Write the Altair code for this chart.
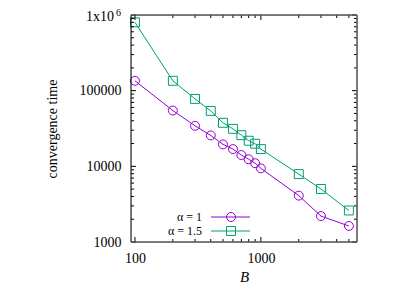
import altair as alt
import pandas as pd

# ---- data ----
B = [100, 200, 300, 400, 500, 600, 700, 800, 900, 1000, 2000, 3000, 5000]
t_alpha1 = [135000, 54600, 34300, 25600, 19500, 16900, 14100, 12400, 11000, 9400, 4100, 2200, 1630]
t_alpha15 = [800000, 135000, 77800, 54000, 37600, 31300, 25800, 21800, 19900, 16900, 7900, 5020, 2610]
series_names = ["α = 1", "α = 1.5"]
series_colors = ["#9400d3", "#009e73"]
series_shapes = ["circle", "square"]

x_major = [100, 1000]
x_minor = [200, 300, 400, 500, 600, 700, 800, 900, 2000, 3000, 4000, 5000]
y_major = [1000, 10000, 100000, 1000000]
y_minor = [m * d for d in (1000, 10000, 100000) for m in range(2, 10)]

W, H = 226, 227
FONT = "'Liberation Serif', 'Times New Roman', serif"

df = pd.DataFrame({
    "B": B * 2,
    "t": t_alpha1 + t_alpha15,
    "series": [series_names[0]] * len(B) + [series_names[1]] * len(B),
})

xscale = alt.Scale(type="log", domain=[93, 5800], nice=False)
yscale = alt.Scale(type="log", domain=[1000, 1000000], nice=False)
cscale = alt.Scale(domain=series_names, range=series_colors)
sscale = alt.Scale(domain=series_names, range=series_shapes)

xaxis = alt.Axis(values=x_major, format="d", tickSize=0, labelPadding=9,
                 labelFont=FONT, labelFontSize=14, labelColor="black",
                 domain=False, grid=False, title="B", titleFont=FONT,
                 titleFontSize=15, titleFontStyle="italic", titleFontWeight="normal",
                 titleColor="black", titleBaseline="alphabetic", titleY=39,
                 labelFlush=False)
yaxis = alt.Axis(values=y_major, tickSize=0, labelPadding=10,
                 labelExpr="datum.value >= 999999 ? '' : format(datum.value, 'd')",
                 labelFont=FONT, labelFontSize=14, labelColor="black",
                 domain=False, grid=False, title="convergence time",
                 titleFont=FONT, titleFontSize=14, titleFontWeight="normal",
                 titleColor="black", titlePadding=20, labelFlush=False)

def X(field):
    return alt.X(field, scale=xscale, axis=xaxis)

def Y(field):
    return alt.Y(field, scale=yscale, axis=yaxis)

base = alt.Chart(df)

lines = base.mark_line(strokeWidth=1).encode(
    x=X("B:Q"), y=Y("t:Q"),
    color=alt.Color("series:N", scale=cscale, legend=None),
    detail="series:N",
)

points = base.mark_point(filled=False, strokeWidth=1, size=80, opacity=1).encode(
    x=X("B:Q"), y=Y("t:Q"),
    color=alt.Color("series:N", scale=cscale, legend=None),
    shape=alt.Shape("series:N", scale=sscale, legend=None),
)

# ---- inward ticks on all four sides ----
def xticks(vals, ln):
    d = pd.DataFrame({"B": vals})
    c = alt.Chart(d).mark_rule(color="black", strokeWidth=1)
    bot = c.encode(x=X("B:Q"), y=alt.value(H), y2=alt.value(H - ln))
    top = c.encode(x=X("B:Q"), y=alt.value(0), y2=alt.value(ln))
    return [bot, top]

def yticks(vals, ln):
    d = pd.DataFrame({"t": vals})
    c = alt.Chart(d).mark_rule(color="black", strokeWidth=1)
    left = c.encode(y=Y("t:Q"), x=alt.value(0), x2=alt.value(ln))
    right = c.encode(y=Y("t:Q"), x=alt.value(W), x2=alt.value(W - ln))
    return [left, right]

ticks = xticks(x_major, 5) + xticks(x_minor, 3) + yticks(y_major, 5) + yticks(y_minor, 3)

# ---- border ----
one = pd.DataFrame({"k": [0]})
border_left = alt.Chart(one).mark_rule(color="black", strokeWidth=1).encode(
    x=alt.value(0), y=alt.value(0), y2=alt.value(H))
border_bottom = alt.Chart(one).mark_rule(color="#555555", strokeWidth=1.5).encode(
    x=alt.value(0), x2=alt.value(W), y=alt.value(H))
border_top = alt.Chart(one).mark_rule(color="#555555", strokeWidth=1.5).encode(
    x=alt.value(0), x2=alt.value(W), y=alt.value(0))
border_right = alt.Chart(one).mark_rule(color="#555555", strokeWidth=1.5).encode(
    x=alt.value(W), y=alt.value(0), y2=alt.value(H))

# ---- 1x10^6 label ----
top_df = pd.DataFrame({"t": [1000000]})
lab_main = alt.Chart(top_df).mark_text(font=FONT, fontSize=14, align="right", baseline="middle",
                                       color="black", dy=2).encode(
    y=Y("t:Q"), x=alt.value(-17), text=alt.value("1x10"))
lab_sup = alt.Chart(top_df).mark_text(font=FONT, fontSize=10, align="right", baseline="middle",
                                      color="black", dy=-2).encode(
    y=Y("t:Q"), x=alt.value(-10), text=alt.value("6"))

# ---- manual legend (label left, sample right) ----
leg_layers = []
leg_rows = [202, 216]
for name, col, shp, yy in zip(series_names, series_colors, series_shapes, leg_rows):
    ldf = pd.DataFrame({"series": [name]})
    c = alt.Chart(ldf)
    leg_layers.append(c.mark_text(font=FONT, fontSize=12, fontWeight="normal", align="right",
                                  baseline="middle", color="black").encode(
        x=alt.value(71), y=alt.value(yy), text="series:N"))
    leg_layers.append(c.mark_rule(color=col, strokeWidth=1).encode(
        x=alt.value(80), x2=alt.value(119), y=alt.value(yy)))
    leg_layers.append(c.mark_point(shape=shp, filled=False, strokeWidth=1, size=80,
                                   color=col, opacity=1).encode(
        x=alt.value(100), y=alt.value(yy)))

chart = alt.layer(lines, points, *ticks, border_left, border_bottom, border_top, border_right,
                  lab_main, lab_sup, *leg_layers).properties(
    width=W, height=H,
    autosize=alt.AutoSizeParams(type="none"),
    padding={"left": 123, "top": 7, "right": 50, "bottom": 43},
).configure_view(stroke=None).configure(background="white")

chart.save("out.html", embed_options={"renderer": "svg", "actions": False})
